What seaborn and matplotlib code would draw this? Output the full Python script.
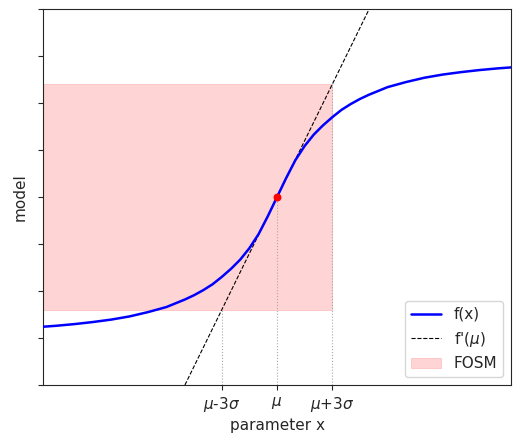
import matplotlib
matplotlib.use("Agg")
import matplotlib.pyplot as plt
import numpy as np
import pandas as pd
import seaborn as sns

# curve f(x) (mu = 0, sigma = 1)
curve_x = [-12.7, -12.0, -11.0, -10.0, -9.0, -8.0, -7.0, -6.0, -5.0, -4.5, -4.0, -3.5,
           -3.0, -2.5, -2.0, -1.5, -1.0, -0.5, 0.0, 0.5, 1.0, 1.5, 2.0, 2.5, 3.0,
           3.5, 4.0, 4.5, 5.0, 6.0, 7.0, 8.0, 9.0, 10.0, 11.0, 12.0, 12.7]
curve_y = [-0.69, -0.685, -0.676, -0.665, -0.652, -0.635, -0.612, -0.585, -0.545, -0.522,
           -0.495, -0.464, -0.425, -0.382, -0.333, -0.272, -0.197, -0.102, 0.0, 0.102,
           0.197, 0.272, 0.333, 0.382, 0.425, 0.464, 0.495, 0.522, 0.545, 0.585, 0.612,
           0.635, 0.652, 0.665, 0.676, 0.685, 0.69]

# tangent line f'(mu) end points
tangent_x = [-5.0, 5.0]
tangent_y = [-1.0, 1.0]

mu = 0.0
sigma = 1.0
f_mu = 0.0
fosm_low = -0.6   # tangent value at mu-3sigma
fosm_high = 0.6   # tangent value at mu+3sigma

xtick_pos = [mu - 3 * sigma, mu, mu + 3 * sigma]
xtick_labels = [r'$\mu$-3$\sigma$', r'$\mu$', r'$\mu$+3$\sigma$']
ytick_pos = [-1.0, -0.75, -0.5, -0.25, 0.0, 0.25, 0.5, 0.75, 1.0]

sns.set_style("ticks")
fig, ax = plt.subplots(figsize=(5.13, 4.36), dpi=100)
fig.subplots_adjust(left=0.084, right=0.996, top=0.979, bottom=0.117)

xlim = (curve_x[0], curve_x[-1])

ax.fill_between([xlim[0], mu + 3 * sigma], fosm_low, fosm_high,
                color='red', alpha=0.17, linewidth=0.6, label='FOSM', zorder=1)

df = pd.DataFrame({'x': curve_x, 'y': curve_y})
sns.lineplot(data=df, x='x', y='y', color='blue', linewidth=1.8,
             label='f(x)', ax=ax, zorder=3)
sns.lineplot(x=tangent_x, y=tangent_y, color='black', linestyle='--',
             linewidth=0.8, label=r"f'($\mu$)", ax=ax, zorder=2)

# guide lines from the axis up to the curve / tangent
for xv, yv in zip(xtick_pos, [fosm_low, f_mu, fosm_high]):
    ax.plot([xv, xv], [-1.0, yv], color='darkgrey', linestyle=':', linewidth=0.8, zorder=1)

ax.scatter([mu], [f_mu], color='red', s=22, zorder=4)

ax.set_xlim(xlim)
ax.set_ylim(-1.0, 1.0)
ax.set_xticks(xtick_pos)
ax.set_xticklabels(xtick_labels, fontsize=11)
ax.set_yticks(ytick_pos)
ax.set_yticklabels([])
ax.set_xlabel('parameter x', fontsize=11, labelpad=3)
ax.set_ylabel('model', fontsize=11, labelpad=4)

handles, labels = ax.get_legend_handles_labels()
order = [labels.index('f(x)'), labels.index(r"f'($\mu$)"), labels.index('FOSM')]
ax.legend([handles[i] for i in order], [labels[i] for i in order],
          loc='lower right', fontsize=11)

fig.savefig('out.png', dpi=100)
